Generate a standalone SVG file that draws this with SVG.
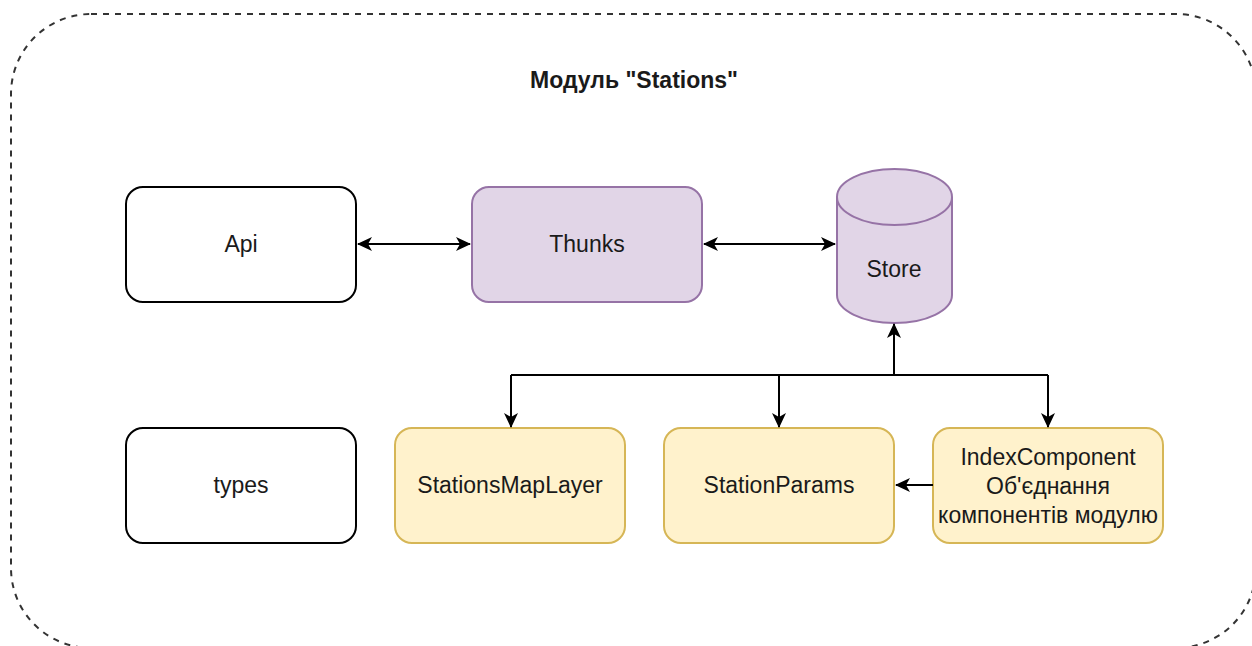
<svg xmlns="http://www.w3.org/2000/svg" width="1252" height="646" viewBox="0 0 1252 646">
<defs>
<style>
.t{font-family:"Liberation Sans",Arial,sans-serif;font-size:23px;fill:#1a1a1a;text-anchor:middle;dominant-baseline:central}
.w{fill:#fff;stroke:#000;stroke-width:2}
.p{fill:#e1d5e7;stroke:#9673a6;stroke-width:2}
.y{fill:#fff2cc;stroke:#d6b656;stroke-width:2}
.c{fill:none;stroke:#000;stroke-width:2}
</style>
<marker id="a" viewBox="0 0 15 14" refX="14" refY="7" markerWidth="15" markerHeight="14" markerUnits="userSpaceOnUse" orient="auto-start-reverse">
<path d="M0,0 L15,7 L0,14 L4,7 Z" fill="#000"/>
</marker>
</defs>
<rect width="1252" height="646" fill="#fff"/>
<g id="module">
<rect x="11" y="14" width="1245" height="634" rx="80" ry="80" fill="none" stroke="#333" stroke-width="2" stroke-dasharray="6 6"/>
<text x="634" y="80" class="t" style="font-weight:bold;font-size:23px">Модуль "Stations"</text>
</g>
<g id="api"><rect class="w" x="126" y="187" width="230" height="115" rx="17"/><text class="t" x="241" y="244">Api</text></g>
<g id="thunks"><rect class="p" x="472" y="187" width="230" height="115" rx="17"/><text class="t" x="587" y="244">Thunks</text></g>
<g id="store"><path class="p" d="M837,197 A57.5,28 0 0 1 952,197 L952,295 A57.5,28 0 0 1 837,295 Z"/><path class="p" d="M837,197 A57.5,28 0 0 0 952,197" fill="none"/><text class="t" x="894" y="269">Store</text></g>
<g id="types"><rect class="w" x="126" y="428" width="230" height="115" rx="17"/><text class="t" x="241" y="485">types</text></g>
<g id="mapLayer"><rect class="y" x="395" y="428" width="230" height="115" rx="17"/><text class="t" x="510" y="485">StationsMapLayer</text></g>
<g id="params"><rect class="y" x="664" y="428" width="230" height="115" rx="17"/><text class="t" x="779" y="485">StationParams</text></g>
<g id="index"><rect class="y" x="933" y="428" width="230" height="115" rx="17"/><text class="t" x="1048" y="457">IndexComponent</text><text class="t" x="1048" y="486">Об'єднання</text><text class="t" x="1048" y="515">компонентів модулю</text></g>
<g id="connectors">
<path class="c" d="M358,244 L470,244" marker-start="url(#a)" marker-end="url(#a)"/>
<path class="c" d="M704,244 L835,244" marker-start="url(#a)" marker-end="url(#a)"/>
<path class="c" d="M894,375 L894,324" marker-end="url(#a)"/>
<path class="c" d="M511,375 L1048,375"/>
<path class="c" d="M511,375 L511,427" marker-end="url(#a)"/>
<path class="c" d="M779,375 L779,427" marker-end="url(#a)"/>
<path class="c" d="M1048,375 L1048,427" marker-end="url(#a)"/>
<path class="c" d="M933,485 L896,485" marker-end="url(#a)"/>
</g>
</svg>
